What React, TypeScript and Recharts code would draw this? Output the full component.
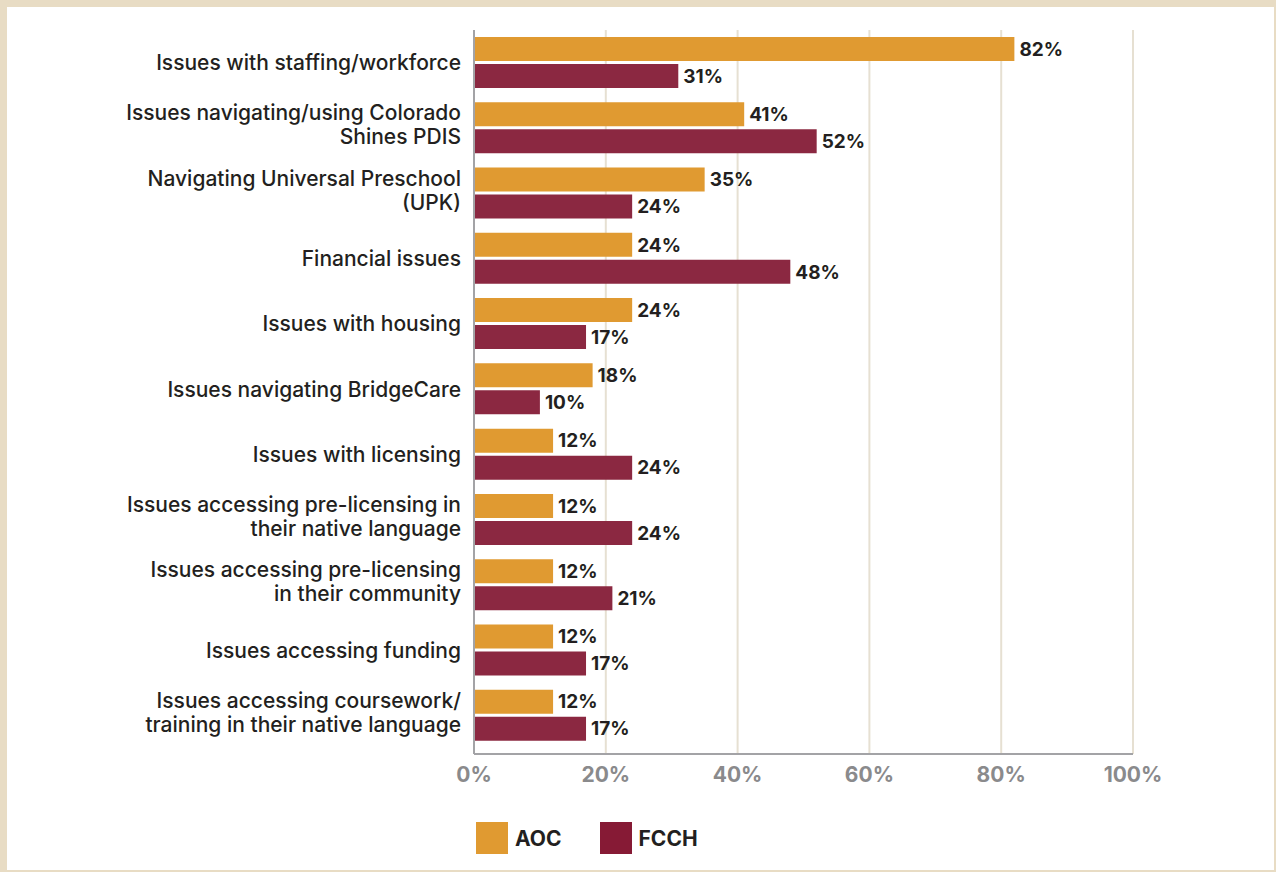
import { Bar, BarChart, CartesianGrid, LabelList, XAxis, YAxis } from 'recharts';

const categories = [
  'Issues with staffing/workforce',
  'Issues navigating/using Colorado\nShines PDIS',
  'Navigating Universal Preschool\n(UPK)',
  'Financial issues',
  'Issues with housing',
  'Issues navigating BridgeCare',
  'Issues with licensing',
  'Issues accessing pre-licensing in\ntheir native language',
  'Issues accessing pre-licensing\nin their community',
  'Issues accessing funding',
  'Issues accessing coursework/\ntraining in their native language',
];
const aocValues = [82, 41, 35, 24, 24, 18, 12, 12, 12, 12, 12];
const fcchValues = [31, 52, 24, 48, 17, 10, 24, 24, 21, 17, 17];
const xTicks = [0, 20, 40, 60, 80, 100];
const legendItems = [
  { label: 'AOC', color: '#e09a31' },
  { label: 'FCCH', color: '#861a35' },
];

const AOC_COLOR = '#e09a31';
const FCCH_COLOR = '#8b2841';
const FONT = 'Inter, "Liberation Sans", Arial, sans-serif';

const data = categories.map((name, i) => ({ name, aoc: aocValues[i], fcch: fcchValues[i] }));

const CategoryTick = ({ x, y, payload }: any) => {
  const lines: string[] = String(payload.value).split('\n');
  const lineHeight = 24;
  const startDy = -((lines.length - 1) * lineHeight) / 2 - (lines.length > 1 ? 3 : 0);
  return (
    <text x={x} y={y} textAnchor="end" fill="#231f20" fontSize={21} fontWeight={500} fontFamily={FONT}>
      {lines.map((line, i) => (
        <tspan key={i} x={x} dy={i === 0 ? startDy : lineHeight} dominantBaseline="central">
          {line}
        </tspan>
      ))}
    </text>
  );
};

const valueLabelStyle = { fill: '#231f20', fontSize: 19, fontWeight: 700, fontFamily: FONT };

export default function App() {
  return (
    <div style={{ position: 'absolute', left: 0, top: 0, width: 1276, height: 872, background: '#e8dcc4' }}>
      <div style={{ position: 'absolute', left: 7, top: 7, width: 1267, height: 863, background: '#ffffff' }} />
      <div style={{ position: 'absolute', left: 0, top: 0 }}>
        <BarChart
          width={1276}
          height={872}
          data={data}
          layout="vertical"
          margin={{ top: 30, right: 143, bottom: 88, left: 0 }}
          barSize={24}
          barGap={3}
        >
          <CartesianGrid horizontal={false} stroke="#e6e0d2" strokeWidth={2} />
          <XAxis
            type="number"
            domain={[0, 100]}
            ticks={xTicks}
            tickFormatter={(v: number) => `${v}%`}
            height={30}
            axisLine={{ stroke: '#a3a3a6', strokeWidth: 2 }}
            tickLine={false}
            tickSize={0}
            tickMargin={13}
            tick={{ fill: '#8a8a8c', fontSize: 21, fontWeight: 700, fontFamily: FONT }}
          />
          <YAxis
            type="category"
            dataKey="name"
            width={474}
            axisLine={{ stroke: '#a3a3a6', strokeWidth: 2 }}
            tickLine={false}
            tickSize={0}
            tickMargin={13}
            padding={{ top: 0, bottom: 6 }}
            interval={0}
            tick={<CategoryTick />}
          />
          <Bar dataKey="aoc" fill={AOC_COLOR} isAnimationActive={false}>
            <LabelList dataKey="aoc" position="right" offset={5} formatter={(v: any) => `${v}%`} style={valueLabelStyle} />
          </Bar>
          <Bar dataKey="fcch" fill={FCCH_COLOR} isAnimationActive={false}>
            <LabelList dataKey="fcch" position="right" offset={5} formatter={(v: any) => `${v}%`} style={valueLabelStyle} />
          </Bar>
        </BarChart>
      </div>
      <div
        style={{
          position: 'absolute',
          left: 476,
          top: 822,
          display: 'flex',
          alignItems: 'center',
          fontFamily: FONT,
          fontWeight: 700,
          fontSize: 21,
          color: '#231f20',
        }}
      >
        {legendItems.map((item) => (
          <div key={item.label} style={{ display: 'flex', alignItems: 'center', marginRight: 38 }}>
            <span style={{ width: 32, height: 32, background: item.color, display: 'inline-block', marginRight: 7 }} />
            <span>{item.label}</span>
          </div>
        ))}
      </div>
    </div>
  );
}
